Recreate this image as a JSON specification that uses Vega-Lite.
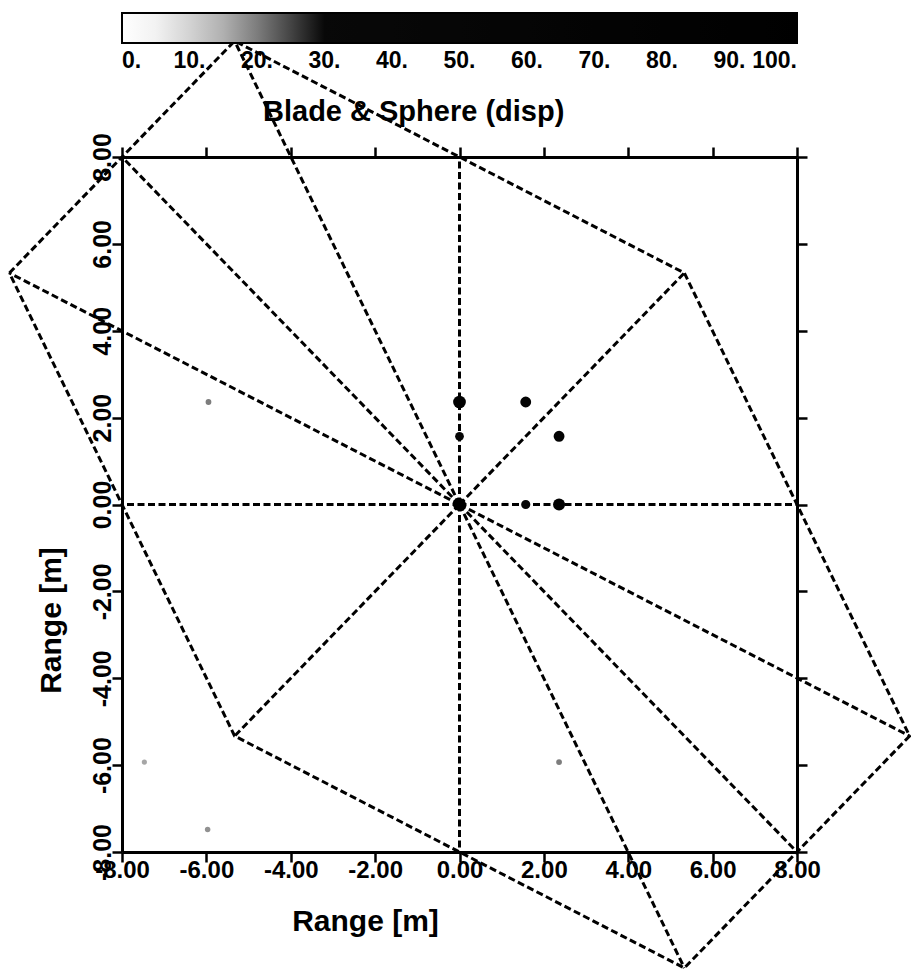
{
  "$schema": "https://vega.github.io/schema/vega-lite/v6.json",
  "autosize": {"type": "none"},
  "width": 675,
  "height": 695,
  "padding": {"left": 122, "top": 157, "right": 114, "bottom": 123},
  "background": "white",
  "title": {
    "text": "Blade & Sphere (disp)",
    "anchor": "start",
    "frame": "group",
    "orient": "top",
    "dx": 141,
    "dy": 137,
    "offset": 0,
    "baseline": "alphabetic",
    "font": "Liberation Sans",
    "fontSize": 29,
    "fontWeight": "bold",
    "color": "black"
  },
  "config": {
    "view": {"stroke": null},
    "axis": {
      "domainColor": "black",
      "domainWidth": 3,
      "tickColor": "black",
      "tickWidth": 2.5,
      "tickSize": 10,
      "grid": false,
      "labelFont": "Liberation Sans",
      "labelFontWeight": "bold",
      "labelColor": "black",
      "labelFlush": false,
      "labelOverlap": false,
      "labelBound": false,
      "labelExpr": "replace(datum.label, '\u2212', '-')",
      "titleFont": "Liberation Sans",
      "titleFontWeight": "bold",
      "titleFontSize": 30,
      "titleColor": "black"
    }
  },
  "datasets": {
    "lines": [
      {"g": "r1", "i": 0, "x": 0, "y": 0}, {"g": "r1", "i": 1, "x": -10.67, "y": 5.33},
      {"g": "r2", "i": 0, "x": 0, "y": 0}, {"g": "r2", "i": 1, "x": -8, "y": 8},
      {"g": "r3", "i": 0, "x": 0, "y": 0}, {"g": "r3", "i": 1, "x": -5.33, "y": 10.67},
      {"g": "r4", "i": 0, "x": 0, "y": 0}, {"g": "r4", "i": 1, "x": 0, "y": 8},
      {"g": "r5", "i": 0, "x": 0, "y": 0}, {"g": "r5", "i": 1, "x": 5.33, "y": 5.33},
      {"g": "r6", "i": 0, "x": 0, "y": 0}, {"g": "r6", "i": 1, "x": 8, "y": 0},
      {"g": "r7", "i": 0, "x": 0, "y": 0}, {"g": "r7", "i": 1, "x": 10.67, "y": -5.33},
      {"g": "r8", "i": 0, "x": 0, "y": 0}, {"g": "r8", "i": 1, "x": 8, "y": -8},
      {"g": "r9", "i": 0, "x": 0, "y": 0}, {"g": "r9", "i": 1, "x": 5.33, "y": -10.67},
      {"g": "r10", "i": 0, "x": 0, "y": 0}, {"g": "r10", "i": 1, "x": 0, "y": -8},
      {"g": "r11", "i": 0, "x": 0, "y": 0}, {"g": "r11", "i": 1, "x": -5.33, "y": -5.33},
      {"g": "r12", "i": 0, "x": 0, "y": 0}, {"g": "r12", "i": 1, "x": -8, "y": 0},
      {"g": "hex", "i": 0, "x": -10.67, "y": 5.33},
      {"g": "hex", "i": 1, "x": -5.33, "y": 10.67},
      {"g": "hex", "i": 2, "x": 5.33, "y": 5.33},
      {"g": "hex", "i": 3, "x": 10.67, "y": -5.33},
      {"g": "hex", "i": 4, "x": 5.33, "y": -10.67},
      {"g": "hex", "i": 5, "x": -5.33, "y": -5.33},
      {"g": "hex", "i": 6, "x": -10.67, "y": 5.33}
    ],
    "points": [
      {"x": 0, "y": 0, "disp": 100},
      {"x": 0, "y": 2.36, "disp": 95},
      {"x": 2.36, "y": 0, "disp": 85},
      {"x": 1.57, "y": 2.36, "disp": 70},
      {"x": 2.36, "y": 1.57, "disp": 70},
      {"x": 1.57, "y": 0, "disp": 50},
      {"x": 0, "y": 1.57, "disp": 45},
      {"x": -5.95, "y": 2.36, "disp": 20},
      {"x": 2.36, "y": -5.93, "disp": 20},
      {"x": -5.97, "y": -7.48, "disp": 18},
      {"x": -7.47, "y": -5.93, "disp": 16}
    ]
  },
  "layer": [
    {
      "data": {"name": "lines"},
      "mark": {"type": "line", "color": "black", "strokeWidth": 3, "strokeDash": [7, 3.5], "clip": false},
      "encoding": {
        "x": {
          "field": "x", "type": "quantitative",
          "scale": {"domain": [-8, 8], "nice": false, "zero": false},
          "axis": {
            "orient": "bottom",
            "values": [-8, -6, -4, -2, 0, 2, 4, 6, 8],
            "format": ".2f",
            "labelFontSize": 24,
            "labelBaseline": "alphabetic",
            "labelPadding": 15,
            "title": "Range [m]",
            "titleX": 243,
            "titleY": 78,
            "titleAlign": "center",
            "titleBaseline": "alphabetic"
          }
        },
        "y": {
          "field": "y", "type": "quantitative",
          "scale": {"domain": [-8, 8], "nice": false, "zero": false},
          "axis": {
            "orient": "left",
            "values": [-8, -6, -4, -2, 0, 2, 4, 6, 8],
            "format": ".2f",
            "labelFontSize": 25,
            "labelAngle": -90,
            "labelAlign": "center",
            "labelBaseline": "alphabetic",
            "labelPadding": 2,
            "title": "Range [m]",
            "titleAngle": -90,
            "titleX": -62,
            "titleY": 463,
            "titleAlign": "center",
            "titleBaseline": "alphabetic"
          }
        },
        "detail": {"field": "g"},
        "order": {"field": "i", "type": "quantitative"}
      }
    },
    {
      "data": {"name": "points"},
      "mark": {"type": "point", "shape": "circle", "filled": true, "opacity": 1, "clip": false},
      "encoding": {
        "x": {
          "field": "x", "type": "quantitative",
          "scale": {"domain": [-8, 8], "nice": false, "zero": false},
          "axis": {"orient": "top", "values": [-8, -6, -4, -2, 0, 2, 4, 6, 8], "labels": false, "title": null}
        },
        "y": {
          "field": "y", "type": "quantitative",
          "scale": {"domain": [-8, 8], "nice": false, "zero": false},
          "axis": {"orient": "right", "values": [-8, -6, -4, -2, 0, 2, 4, 6, 8], "labels": false, "title": null}
        },
        "color": {
          "field": "disp", "type": "quantitative",
          "scale": {"domain": [0, 6, 15, 22, 30, 100], "range": ["#ffffff", "#f0f0f0", "#b0b0b0", "#6a6a6a", "#080808", "#000000"]},
          "legend": {
            "orient": "none",
            "legendX": 0,
            "legendY": -144,
            "direction": "horizontal",
            "gradientLength": 675,
            "gradientThickness": 30,
            "gradientStrokeColor": "black",
            "gradientStrokeWidth": 2,
            "padding": 0,
            "title": null,
            "values": [0, 10, 20, 30, 40, 50, 60, 70, 80, 90, 100],
            "format": "d",
            "labelExpr": "datum.label + '.'",
            "labelFont": "Liberation Sans",
            "labelFontWeight": "bold",
            "labelFontSize": 23,
            "labelColor": "black",
            "labelOffset": 7,
            "labelOverlap": false
          }
        },
        "size": {
          "field": "disp", "type": "quantitative",
          "scale": {"domain": [15, 100], "range": [25, 170]},
          "legend": null
        }
      }
    }
  ],
  "resolve": {"axis": {"x": "independent", "y": "independent"}}
}
